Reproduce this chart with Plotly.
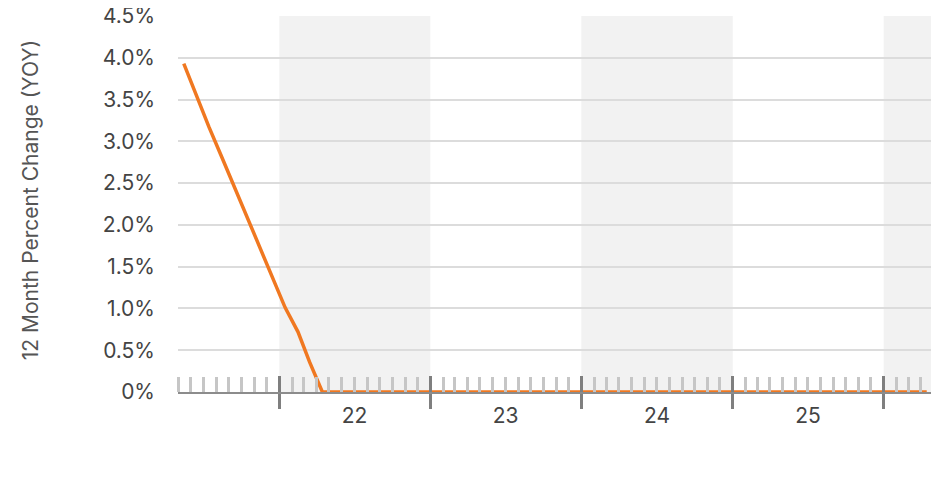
import pandas as pd
import plotly.graph_objects as go

# monthly YOY % change, May 2021 .. Apr 2026
START_MONTH = "2021-05-01"
YOY_PCT = [
    3.93, 3.53, 3.17, 2.81, 2.45, 2.09, 1.73, 1.37,          # May-Dec 2021
    1.01, 0.72, 0.36, 0.00, 0.00, 0.00, 0.00, 0.00, 0.00, 0.00, 0.00, 0.00,  # 2022
    0.00, 0.00, 0.00, 0.00, 0.00, 0.00, 0.00, 0.00, 0.00, 0.00, 0.00, 0.00,  # 2023
    0.00, 0.00, 0.00, 0.00, 0.00, 0.00, 0.00, 0.00, 0.00, 0.00, 0.00, 0.00,  # 2024
    0.00, 0.00, 0.00, 0.00, 0.00, 0.00, 0.00, 0.00, 0.00, 0.00, 0.00, 0.00,  # 2025
    0.00, 0.00, 0.00, 0.00,                                  # Jan-Apr 2026
]
YEAR_STARTS = ["2022-01-01", "2023-01-01", "2024-01-01", "2025-01-01", "2026-01-01"]
YEAR_LABELS = ["22", "23", "24", "25"]
LABEL_POS = ["2022-07-02", "2023-07-02", "2024-07-02", "2025-07-02"]
SHADED = [("2022-01-01", "2023-01-01"), ("2024-01-01", "2025-01-01"), ("2026-01-01", "2026-05-05")]
Y_TICKS = [0, 0.5, 1.0, 1.5, 2.0, 2.5, 3.0, 3.5, 4.0, 4.5]
Y_LABELS = ["0%", "0.5%", "1.0%", "1.5%", "2.0%", "2.5%", "3.0%", "3.5%", "4.0%", "4.5%"]

X_RANGE = ["2021-05-01", "2026-05-05"]
FONT = "Inter, Roboto, sans-serif"
ORANGE = "#F07821"

dates = pd.date_range(START_MONTH, periods=len(YOY_PCT), freq="MS") + pd.Timedelta(days=14)

fig = go.Figure()
fig.add_trace(go.Scatter(
    x=dates, y=YOY_PCT, mode="lines",
    line=dict(color=ORANGE, width=3.5), showlegend=False, cliponaxis=False,
))

for x0, x1 in SHADED:
    fig.add_vrect(x0=x0, x1=x1, fillcolor="#f2f2f2", line_width=0, layer="below")

fig.add_annotation(
    text="12 Month Percent Change (YOY)", textangle=-90,
    xref="paper", yref="paper", x=-0.1955, y=0.51,
    xanchor="center", yanchor="middle", showarrow=False,
    font=dict(size=21, color="#555555"),
)

fig.update_layout(
    width=939, height=502,
    plot_bgcolor="white", paper_bgcolor="white",
    font=dict(family=FONT, size=21, color="#444444"),
    margin=dict(l=170, r=12, t=8, b=118, autoexpand=False),
    xaxis=dict(
        type="date", range=X_RANGE, automargin=False,
        tickvals=YEAR_STARTS, ticks="outside", ticklen=15, tickwidth=3,
        tickcolor="#7f7f7f", showticklabels=False,
        showgrid=False, zeroline=False,
        showline=True, linecolor="#8c8c8c", linewidth=2,
        minor=dict(ticks="inside", dtick="M1", tick0="2021-01-01",
                   ticklen=15, tickwidth=3, tickcolor="#c6c6c6", showgrid=False),
    ),
    xaxis2=dict(
        type="date", range=X_RANGE, overlaying="x", anchor="y", side="bottom",
        automargin=False,
        tickvals=YEAR_STARTS, ticks="inside", ticklen=16, tickwidth=3,
        tickcolor="#7f7f7f", showticklabels=False, showgrid=False, zeroline=False,
    ),
    xaxis3=dict(
        type="date", range=X_RANGE, overlaying="x", anchor="y", side="bottom",
        automargin=False,
        tickvals=LABEL_POS, ticktext=YEAR_LABELS, ticks="outside", ticklen=5,
        tickcolor="rgba(0,0,0,0)", showgrid=False, zeroline=False,
        tickfont=dict(size=21, color="#444444"),
    ),
    yaxis=dict(
        range=[0, 4.5], tickvals=Y_TICKS, ticktext=Y_LABELS, automargin=False,
        showgrid=True, gridcolor="#dcdcdc", gridwidth=1.5,
        zeroline=False, ticks="", ticklabelstandoff=22,
        ticklabeloverflow="allow",
        tickfont=dict(size=21, color="#444444"),
    ),
)

# empty traces so the overlay axes get drawn
fig.add_trace(go.Scatter(x=[], y=[], xaxis="x2", showlegend=False))
fig.add_trace(go.Scatter(x=[], y=[], xaxis="x3", showlegend=False))

fig.write_html("out.html")
